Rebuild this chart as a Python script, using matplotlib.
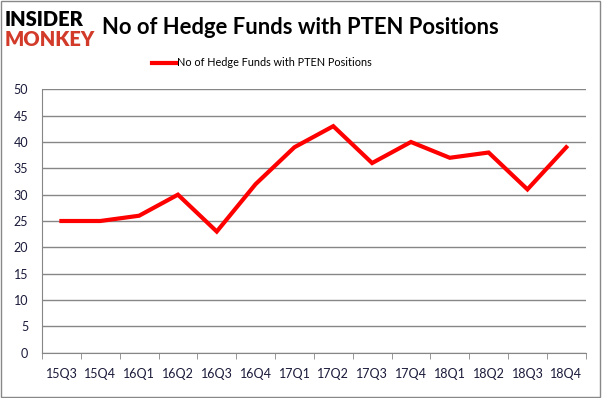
import matplotlib.pyplot as plt
from matplotlib.ticker import FixedLocator, MultipleLocator
import numpy as np

# data
quarters = ["15Q3", "15Q4", "16Q1", "16Q2", "16Q3", "16Q4", "17Q1",
            "17Q2", "17Q3", "17Q4", "18Q1", "18Q2", "18Q3", "18Q4"]
hedge_funds = [25, 25, 26, 30, 23, 32, 39, 43, 36, 40, 37, 38, 31, 39]
series_name = "No of Hedge Funds with PTEN Positions"

plt.rcParams['font.family'] = ['Lato', 'DejaVu Sans']

fig = plt.figure(figsize=(6.02, 3.98), dpi=100)
W, H = 602, 398
ax = fig.add_axes([42 / W, 1 - 352.7 / H, (585.7 - 42) / W, (352.7 - 89.3) / H])

x = np.arange(len(quarters))
ax.plot(x, hedge_funds, color='#ff0000', linewidth=3.0, solid_joinstyle='miter',
        label=series_name)

ax.set_xlim(-0.5, len(quarters) - 0.5)
ax.set_ylim(0, 50)
ax.yaxis.set_major_locator(MultipleLocator(5))
ax.grid(axis='y', color='#868686', linewidth=1)
ax.set_axisbelow(True)

ax.set_xticks(x)
ax.set_xticklabels(quarters, fontsize=9, color='#1a1a3a')
ax.tick_params(axis='x', which='major', length=0, pad=11)
ax.xaxis.set_minor_locator(FixedLocator(np.arange(-0.5, len(quarters), 1)))
ax.tick_params(axis='x', which='minor', length=4, color='#868686')
ax.tick_params(axis='y', length=0, labelsize=9, labelcolor='#1a1a3a', pad=10)

for side in ['top', 'right']:
    ax.spines[side].set_visible(False)
for side in ['left', 'bottom']:
    ax.spines[side].set_color('#868686')

# title and legend
fig.text(300 / W, 1 - 27 / H, series_name, fontsize=15.8, fontweight='bold',
         ha='center', va='center', color='black')
leg = fig.legend(loc='center', bbox_to_anchor=(262 / W, 1 - 63 / H), frameon=False,
                 fontsize=7.8, handlelength=2.2, handletextpad=0.1)

# logo
fig.text(5 / W, 1 - 20 / H, "INSIDER", fontsize=14.5, fontweight='heavy',
         color='black', ha='left', va='center')
fig.text(5 / W, 1 - 40 / H, "MONKEY", fontsize=14.5, fontweight='heavy',
         color='#d23b2a', ha='left', va='center')

# outer border
fig.patches.append(plt.Rectangle((0.002, 0.003), 0.995, 0.994, transform=fig.transFigure,
                                 fill=False, edgecolor='#888888', linewidth=1))

fig.savefig("out.png", dpi=100)
